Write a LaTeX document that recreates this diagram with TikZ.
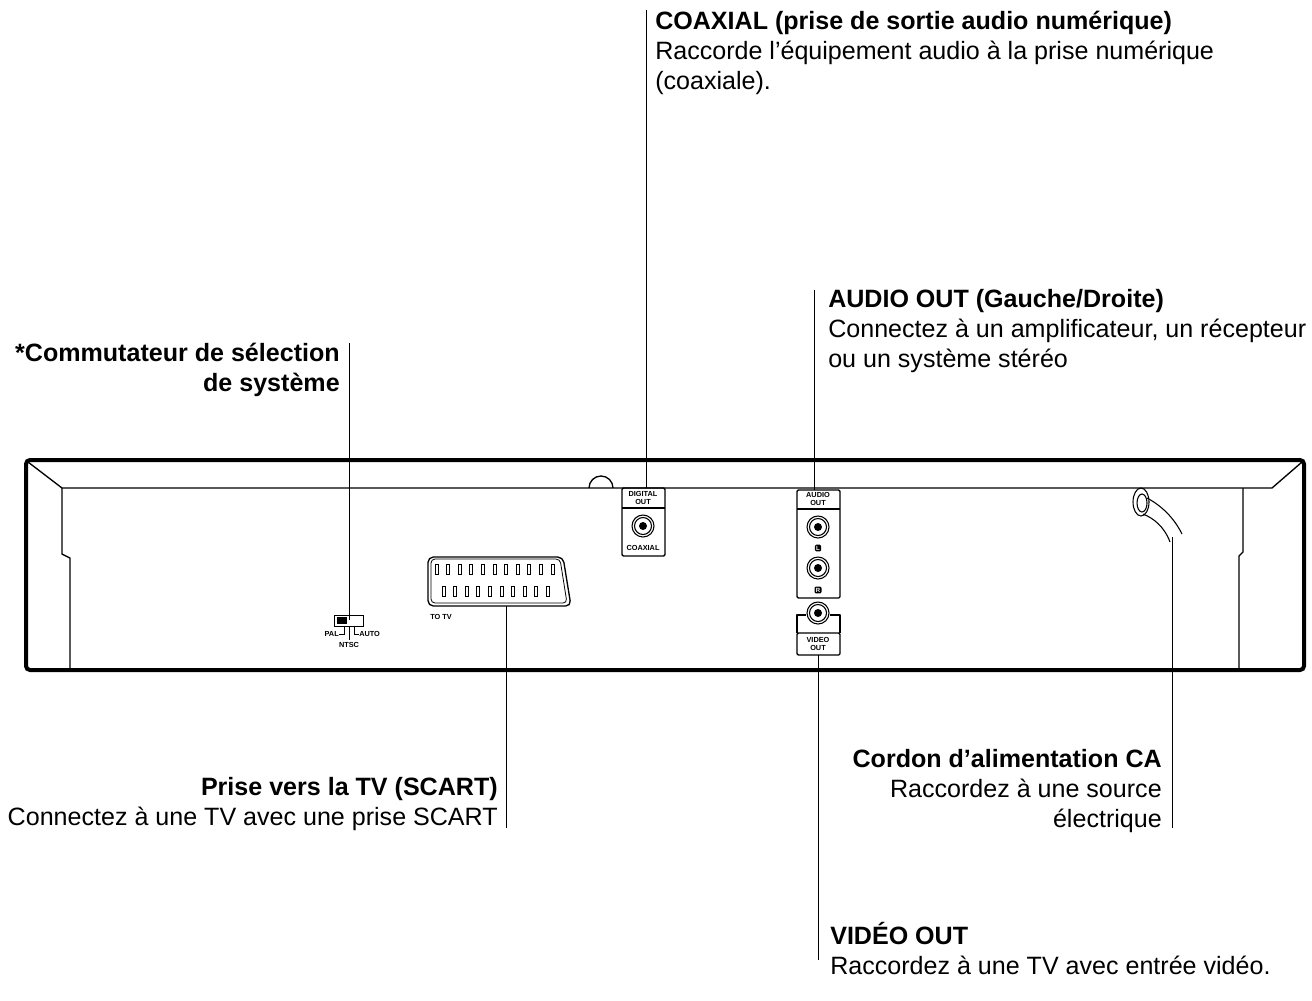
\documentclass[tikz,border=0pt]{standalone}
\usepackage{fontspec}
\setmainfont{Liberation Sans}
\begin{document}
\begin{tikzpicture}[x=0.75pt,y=-0.75pt,
 lbl/.style={font=\fontsize{18.8}{22.5}\selectfont,inner sep=0,align=left},
 tiny/.style={font=\bfseries\fontsize{5.5}{5.8}\selectfont,inner sep=0,align=center},
 lead/.style={line width=0.6pt},
 panel/.style={line width=1pt,line join=round},
 jack/.style={line width=0.8pt}]
\useasboundingbox (0,0) rectangle (1312,1000);
% panel
\draw[line width=3pt,rounded corners=3pt] (26,460) rectangle (1304,670);
\draw[panel] (28,462) -- (62,488) -- (1272,488) -- (1302,462);
\draw[panel] (62,488) -- (62,554) -- (70,558) -- (70,670);
\draw[panel] (1243,488) -- (1243,552) -- (1239,556) -- (1239,670);
% notch
\draw[panel] (589,488) arc (180:360:12);
% digital out
\draw[panel,rounded corners=1pt] (622,488) rectangle (665,556);
\draw[panel] (622,508) -- (665,508);
\node[tiny] (dlab) at (643,498) {DIGITAL\\OUT};
\node[tiny] (clab) at (643,548) {COAXIAL};
\draw[jack] (643,526) circle (11); \draw[jack] (643,526) circle (8.5); \fill (643,526) circle (4);
% audio out
\draw[panel,rounded corners=1pt] (797,490) rectangle (840,598);
\draw[panel] (797,509) -- (840,509);
\node[tiny] at (818,499) {AUDIO\\OUT};
\foreach \yy in {527,568}{\draw[jack] (818,\yy) circle (11); \draw[jack] (818,\yy) circle (8.5); \fill (818,\yy) circle (4);}
\node[fill=black,text=white,font=\bfseries\fontsize{4.5}{4.5}\selectfont,inner sep=1pt,rounded corners=1pt] at (818,548) {L};
\node[fill=black,text=white,font=\bfseries\fontsize{4.5}{4.5}\selectfont,inner sep=1pt,rounded corners=1pt] at (818,590) {R};
% video out
\draw[panel,rounded corners=1pt] (797,633) rectangle (840,655);
\draw[panel] (797,633) -- (797,615) -- (806,615); \draw[panel] (830,615) -- (840,615) -- (840,633);
\draw[jack,fill=white] (818,613) circle (11); \draw[jack] (818,613) circle (8.5); \fill (818,613) circle (4);
\node[tiny] (vlab) at (818,644) {VIDEO\\OUT};
% scart
\draw[panel,rounded corners=4pt] (428,557) -- (428,606) -- (571,606) -- (563,557) -- cycle;
\draw[line width=0.6pt,rounded corners=3pt] (431,559) -- (431,603) -- (567,603) -- (560,559) -- cycle;
\foreach \i in {0,...,10}{\draw[line width=0.5pt] (435+\i*11.6,564) rectangle ++(3,10);}
\foreach \i in {0,...,9}{\draw[line width=0.5pt] (442+\i*11.6,586) rectangle ++(3,10);}
\node[tiny,anchor=west] at (430,617) {TO TV};
% switch
\draw[line width=0.6pt] (334,615) rectangle (363,626);
\fill (337,617) rectangle (347,624);
\draw[line width=0.5pt] (344,626) -- (344,634) -- (339,634);
\draw[line width=0.5pt] (349,626) -- (349,640);
\draw[line width=0.5pt] (354,626) -- (354,634) -- (359,634);
\node[tiny,anchor=east] at (339,634) {PAL};
\node[tiny,anchor=west] at (359,634) {AUTO};
\node[tiny] at (349,645) {NTSC};
% power cord
\draw[line width=0.8pt] (1141,502) ellipse (8 and 14);
\draw[line width=0.8pt] (1142,503) ellipse (5 and 9);
\draw[line width=0.8pt] (1143,514) .. controls (1153,518) and (1164,526) .. (1170,542);
\draw[line width=0.8pt] (1147,498) .. controls (1162,506) and (1174,518) .. (1182,534);
% labels
\node[lbl,anchor=north west] (tcoax) at (655,11) {\textbf{COAXIAL (prise de sortie audio numérique)}\\Raccorde l’équipement audio à la prise numérique\\(coaxiale).};
\node[lbl,anchor=north west] (taudio) at (828,289) {\textbf{AUDIO OUT (Gauche/Droite)}\\Connectez à un amplificateur, un récepteur\\ou un système stéréo};
\node[lbl,anchor=north east,align=right] (tsw) at (340,343) {\textbf{*Commutateur de sélection}\\\textbf{de système}};
\node[lbl,anchor=north east,align=right] (tscart) at (498,777) {\textbf{Prise vers la TV (SCART)}\\Connectez à une TV avec une prise SCART};
\node[lbl,anchor=north east,align=right] (tcord) at (1162,749) {\textbf{Cordon d’alimentation CA}\\Raccordez à une source\\électrique};
\node[lbl,anchor=north west] (tvid) at (830,922) {\textbf{VIDÉO OUT}\\Raccordez à une TV avec entrée vidéo.};
% leaders
\coordinate (a1) at (646,10); \coordinate (a2) at (646,488);
\draw[lead] (a1) -- (a2);
\coordinate (b1) at (814,290); \coordinate (b2) at (814,490);
\draw[lead] (b1) -- (b2);
\coordinate (c1) at (349,343); \coordinate (c2) at (349,620);
\draw[lead] (c1) -- (c2);
\coordinate (d1) at (506,606); \coordinate (d2) at (506,828);
\draw[lead] (d1) -- (d2);
\coordinate (e1) at (1172,537); \coordinate (e2) at (1172,828);
\draw[lead] (e1) -- (e2);
\coordinate (f1) at (818,655); \coordinate (f2) at (818,960);
\draw[lead] (f1) -- (f2);
\end{tikzpicture}
\end{document}
